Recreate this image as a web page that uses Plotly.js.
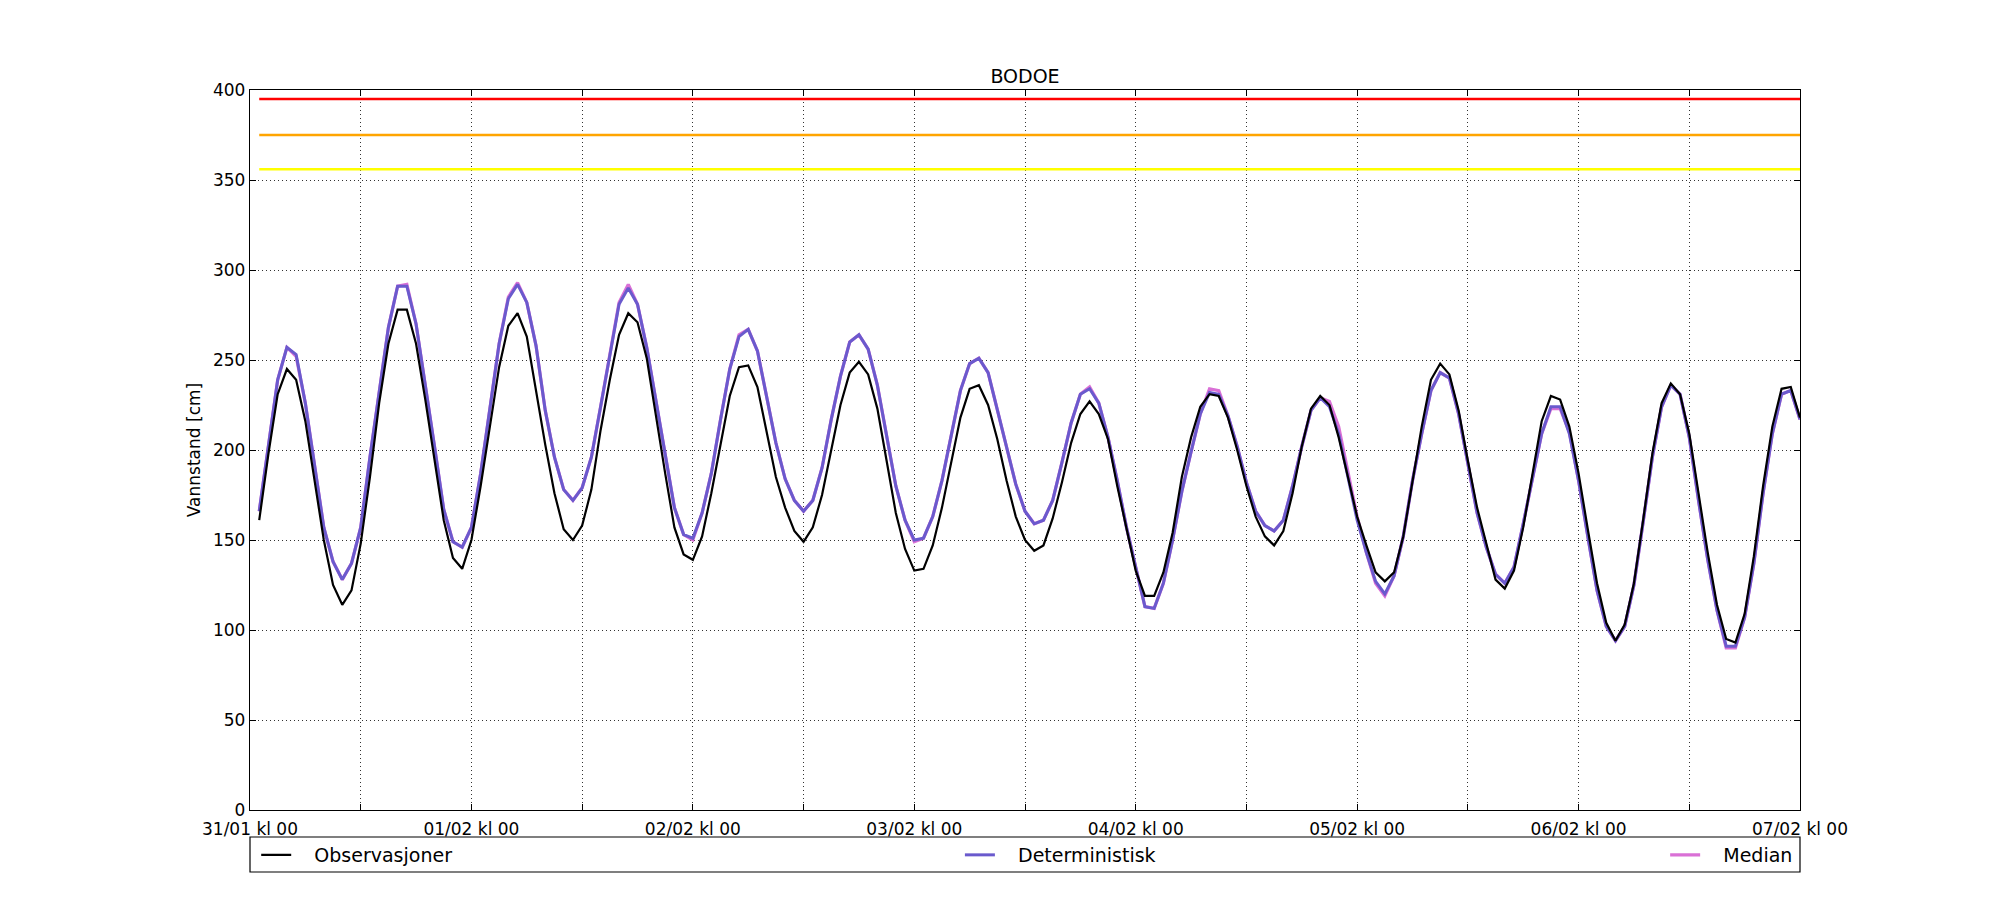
<!DOCTYPE html>
<html>
<head>
<meta charset="utf-8">
<script src="https://cdn.plot.ly/plotly-3.0.1.min.js"></script>
<style>
  html, body { margin: 0; padding: 0; background: #fff; }
  #plot { width: 2000px; height: 900px; }
</style>
</head>
<body>
<div id="plot"></div>
<script>
// Hourly water level, 31/01 kl 01 .. 07/02 kl 00 (one line per day)
var observasjoner = [
  161, 198, 231, 245, 239, 216, 183, 150, 125, 114, 122, 148, 185, 226, 259, 278, 278, 259, 228, 194, 161, 140, 134, 150,
  180, 213, 246, 269, 276, 263, 233, 203, 176, 156, 150, 158, 178, 211, 239, 264, 276, 271, 251, 218, 187, 157, 142, 139,
  152, 176, 202, 230, 246, 247, 235, 209, 185, 168, 155, 149, 157, 175, 200, 225, 243, 249, 242, 223, 194, 165, 145, 133,
  134, 147, 168, 194, 218, 234, 236, 225, 206, 183, 163, 150, 144, 147, 162, 182, 204, 220, 227, 220, 206, 180, 156, 133,
  119, 119, 132, 154, 185, 207, 224, 231, 230, 218, 200, 180, 163, 152, 147, 155, 176, 202, 223, 230, 225, 207, 185, 163,
  147, 132, 127, 132, 152, 183, 213, 239, 248, 242, 222, 194, 168, 148, 128, 123, 133, 157, 187, 216, 230, 228, 213, 187,
  156, 126, 104,  94, 103, 126, 161, 198, 226, 237, 231, 209, 176, 143, 114,  95,  93, 109, 141, 180, 213, 234, 235, 218
];

var deterministisk = [
  166, 204, 239, 257, 253, 226, 191, 157, 138, 128, 137, 157, 196, 233, 268, 291, 291, 270, 237, 202, 167, 149, 146, 157,
  187, 224, 259, 284, 292, 282, 258, 222, 196, 178, 172, 179, 196, 224, 252, 281, 290, 281, 257, 228, 198, 168, 153, 151,
  165, 187, 217, 245, 263, 267, 255, 230, 204, 184, 172, 166, 172, 190, 217, 241, 260, 264, 256, 236, 209, 180, 161, 150,
  151, 163, 183, 209, 233, 248, 251, 243, 222, 202, 181, 166, 159, 161, 172, 193, 215, 231, 234, 226, 207, 183, 157, 135,
  113, 112, 126, 150, 177, 199, 220, 232, 231, 219, 202, 182, 166, 158, 155, 161, 180, 202, 222, 229, 224, 209, 185, 161,
  143, 127, 120, 130, 152, 183, 209, 233, 243, 240, 220, 193, 165, 146, 131, 126, 135, 159, 185, 209, 224, 224, 209, 183,
  152, 122, 102,  94, 102, 125, 160, 196, 224, 236, 231, 207, 172, 139, 111,  91,  91, 107, 137, 176, 209, 231, 233, 217
];

var median = [
  166, 204, 239, 257, 252, 226, 191, 157, 138, 128, 137, 157, 196, 233, 268, 291, 292, 270, 237, 202, 167, 149, 146, 157,
  187, 224, 259, 285, 293, 282, 258, 222, 196, 178, 172, 179, 196, 224, 252, 282, 292, 281, 257, 228, 198, 168, 153, 150,
  165, 187, 217, 245, 264, 267, 255, 230, 204, 184, 172, 166, 172, 190, 217, 241, 260, 264, 256, 236, 209, 180, 161, 149,
  151, 163, 183, 209, 233, 248, 251, 243, 222, 202, 181, 166, 159, 161, 172, 193, 215, 231, 235, 226, 207, 183, 157, 135,
  113, 112, 126, 150, 177, 199, 220, 234, 233, 219, 202, 182, 166, 158, 155, 161, 180, 202, 222, 229, 227, 213, 189, 163,
  143, 126, 119, 130, 152, 183, 209, 233, 243, 240, 220, 193, 165, 146, 131, 126, 135, 159, 185, 209, 223, 223, 210, 183,
  152, 122, 102,  94, 102, 125, 160, 196, 224, 236, 231, 207, 172, 139, 111,  90,  90, 107, 137, 176, 209, 231, 233, 217
];

// warning levels [cm]
var thresholds = [395, 375, 356];
var thresholdColors = ['#ff0000', '#ffa500', '#ffff00'];

var tickLabels = ['31/01 kl 00', '', '01/02 kl 00', '', '02/02 kl 00', '', '03/02 kl 00', '',
                  '04/02 kl 00', '', '05/02 kl 00', '', '06/02 kl 00', '', '07/02 kl 00'];

var startMs = Date.UTC(2016, 0, 31, 0, 0);
function stamp(hours) {
  return new Date(startMs + hours * 3600e3).toISOString().slice(0, 16).replace('T', ' ');
}

var times = observasjoner.map(function (v, i) { return stamp(i + 1); });
var tickVals = tickLabels.map(function (t, i) { return stamp(i * 12); });

var traces = [];

thresholds.forEach(function (level, i) {
  traces.push({
    x: [times[0], times[times.length - 1]],
    y: [level, level],
    mode: 'lines',
    line: {color: thresholdColors[i], width: 2.5},
    showlegend: false,
    hoverinfo: 'skip'
  });
});

// matplotlib-like gap between legend line and label
var pad = '\u00a0\u00a0\u00a0';

traces.push({
  x: times, y: median, name: pad + 'Median', mode: 'lines',
  line: {color: '#da70d6', width: 3.2},
  legend: 'legend3'
});
traces.push({
  x: times, y: deterministisk, name: pad + 'Deterministisk', mode: 'lines',
  line: {color: '#6a5acd', width: 3},
  legend: 'legend2'
});
traces.push({
  x: times, y: observasjoner, name: pad + 'Observasjoner', mode: 'lines',
  line: {color: '#000000', width: 2.2},
  legend: 'legend'
});

var legendBase = {
  orientation: 'h', yanchor: 'middle', y: -0.0625, xanchor: 'left',
  bgcolor: 'rgba(0,0,0,0)', borderwidth: 0,
  font: {family: 'DejaVu Sans', size: 19, color: '#000'},
  itemwidth: 30
};

var layout = {
  width: 2000, height: 900,
  margin: {l: 250, r: 200, t: 90, b: 90},
  paper_bgcolor: '#fff', plot_bgcolor: '#fff',
  font: {family: 'DejaVu Sans', color: '#000'},
  title: {text: 'BODOE', font: {family: 'DejaVu Sans', size: 19, color: '#000'},
          x: 0.5, xref: 'paper', y: 1 - 76 / 900, yanchor: 'middle'},
  showlegend: true,
  legend: Object.assign({}, legendBase, {x: 0.004}),
  legend2: Object.assign({}, legendBase, {x: 0.458}),
  legend3: Object.assign({}, legendBase, {x: 0.913}),
  xaxis: {
    type: 'date',
    range: [stamp(0), stamp(168)],
    tickmode: 'array', tickvals: tickVals, ticktext: tickLabels,
    ticks: 'inside', ticklen: 6, tickcolor: '#000', mirror: 'ticks',
    ticklabelstandoff: 3,
    showline: true, linecolor: '#000', linewidth: 1.2,
    showgrid: true, gridcolor: '#333', gridwidth: 1, griddash: '1px,3px',
    tickfont: {family: 'DejaVu Sans', size: 17, color: '#000'},
    zeroline: false
  },
  yaxis: {
    range: [0, 400], dtick: 50, tick0: 0,
    ticks: 'inside', ticklen: 6, tickcolor: '#000', mirror: 'ticks',
    showline: true, linecolor: '#000', linewidth: 1.2,
    showgrid: true, gridcolor: '#333', gridwidth: 1, griddash: '1px,3px',
    tickfont: {family: 'DejaVu Sans', size: 17, color: '#000'},
    title: {text: 'Vannstand [cm]', font: {family: 'DejaVu Sans', size: 17, color: '#000'}, standoff: 8},
    zeroline: false
  },
  shapes: [{
    type: 'rect', xref: 'paper', yref: 'paper',
    x0: 0, x1: 1, y0: -0.0375, y1: -0.0861,
    line: {color: '#000', width: 1.2}, fillcolor: 'rgba(0,0,0,0)'
  }]
};

Plotly.newPlot('plot', traces, layout, {displayModeBar: false, staticPlot: true});
</script>
</body>
</html>
